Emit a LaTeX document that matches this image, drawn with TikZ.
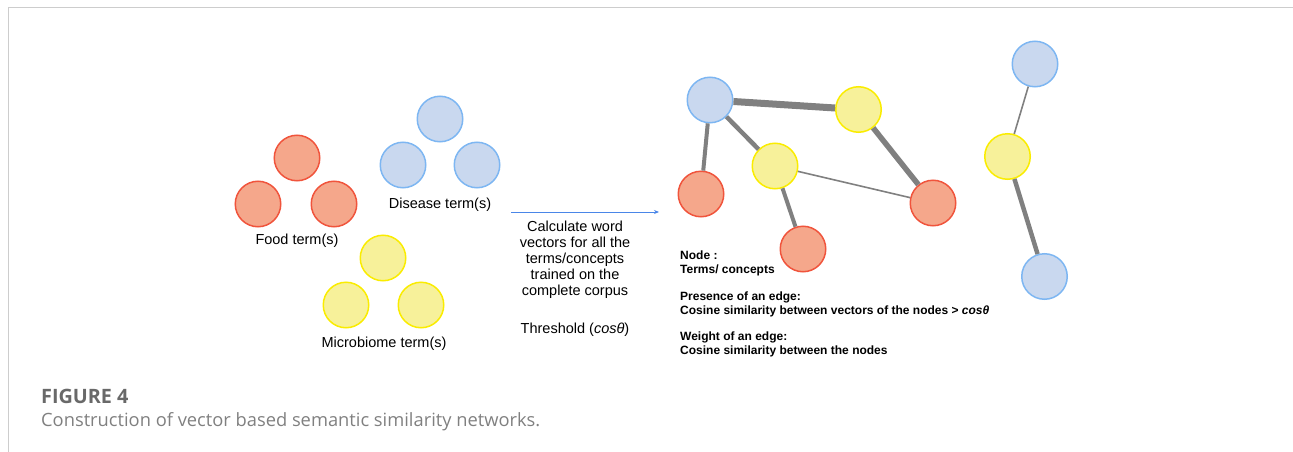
\documentclass[tikz,border=0pt]{standalone}
\usepackage{fontspec}
\setmainfont{Liberation Sans}
\newfontfamily\captionfont{Open Sans}
\usetikzlibrary{arrows.meta}

\definecolor{simred}{RGB}{245,167,139}
\definecolor{simreddraw}{RGB}{240,84,60}
\definecolor{simblue}{RGB}{201,216,239}
\definecolor{simbluedraw}{RGB}{125,182,242}
\definecolor{simyellow}{RGB}{247,241,154}
\definecolor{simyellowdraw}{RGB}{250,236,0}
\definecolor{simedge}{RGB}{128,128,128}
\definecolor{simarrow}{RGB}{74,134,232}
\definecolor{simcaption}{RGB}{105,105,105}
\definecolor{simframe}{RGB}{205,205,205}

\begin{document}
\begin{tikzpicture}[x=1pt,y=-1pt,
    term/.style={circle,minimum size=45.5pt,inner sep=0pt,line width=1.5pt},
    food/.style={term,fill=simred,draw=simreddraw},
    disease/.style={term,fill=simblue,draw=simbluedraw},
    microbe/.style={term,fill=simyellow,draw=simyellowdraw},
    edge/.style={draw=simedge},
    lbl/.style={font=\fontsize{14.5}{16}\selectfont,inner sep=0pt}]
    \useasboundingbox (0,0) rectangle (1293,452);
    \draw[simframe,line width=1.5pt] (1293,7.5) -- (8.5,7.5) -- (8.5,452);

    % the three groups of terms
    \foreach \n/\x/\y in {f1/297/158,f2/258/204,f3/334/204}
      \node[food] (\n) at (\x,\y) {};
    \foreach \n/\x/\y in {d1/440/119,d2/403/165,d3/477/165}
      \node[disease] (\n) at (\x,\y) {};
    \foreach \n/\x/\y in {m1/383/258,m2/346/305,m3/421/305}
      \node[microbe] (\n) at (\x,\y) {};
    \node[lbl] (foodlbl) at (297,241) {Food term(s)};
    \node[lbl] (diseaselbl) at (440,205) {Disease term(s)};
    \node[lbl] (microbelbl) at (384,344) {Microbiome term(s)};

    % training step
    \coordinate (arrowtail) at (511,212);
    \coordinate (arrowtip) at (659,212);
    \draw[-{Stealth[length=5pt,width=4pt]},simarrow,line width=0.9pt]
      (arrowtail) -- (arrowtip);
    \node[lbl,align=center,anchor=north] (steps) at (575,221)
      {Calculate word\\vectors for all the\\terms/concepts\\trained on the\\complete corpus\\[22pt]Threshold (\textit{cosθ})};

    % resulting network
    \node[disease] (na) at (710,100) {};
    \node[microbe] (nb) at (858.5,109.5) {};
    \node[microbe] (nc) at (775,166) {};
    \node[food] (nd) at (701,194) {};
    \node[food] (ne) at (803,249) {};
    \node[food] (nf) at (933,203) {};
    \node[disease] (ng) at (1035,64) {};
    \node[microbe] (nh) at (1007.5,156.5) {};
    \node[disease] (ni) at (1044.5,276.5) {};
    \draw[edge,line width=7pt] (na) -- (nb);
    \draw[edge,line width=4pt] (na) -- (nd);
    \draw[edge,line width=4.5pt] (na) -- (nc);
    \draw[edge,line width=5.5pt] (nb) -- (nf);
    \draw[edge,line width=1.6pt] (nc) -- (nf);
    \draw[edge,line width=4pt] (nc) -- (ne);
    \draw[edge,line width=1.6pt] (ng) -- (nh);
    \draw[edge,line width=4.5pt] (nh) -- (ni);

    \node[inner sep=0pt,anchor=north west,align=left,
      font=\fontsize{12}{14}\selectfont\bfseries] (legend) at (680,251)
      {Node :\\Terms/ concepts\\[13pt]Presence of an edge:\\Cosine similarity between vectors of the nodes > \textit{cosθ}\\[12pt]Weight of an edge:\\Cosine similarity between the nodes};

    % caption
    \node[anchor=base west,inner sep=0pt,text=simcaption,
      font=\captionfont\fontsize{19.8}{22}\selectfont\bfseries] (figlabel) at (41,403) {FIGURE 4};
    \node[anchor=base west,inner sep=0pt,text=simcaption!85,
      font=\captionfont\fontsize{18.3}{22}\selectfont] (caption) at (41,426)
      {Construction of vector based semantic similarity networks.};
\end{tikzpicture}
\end{document}
